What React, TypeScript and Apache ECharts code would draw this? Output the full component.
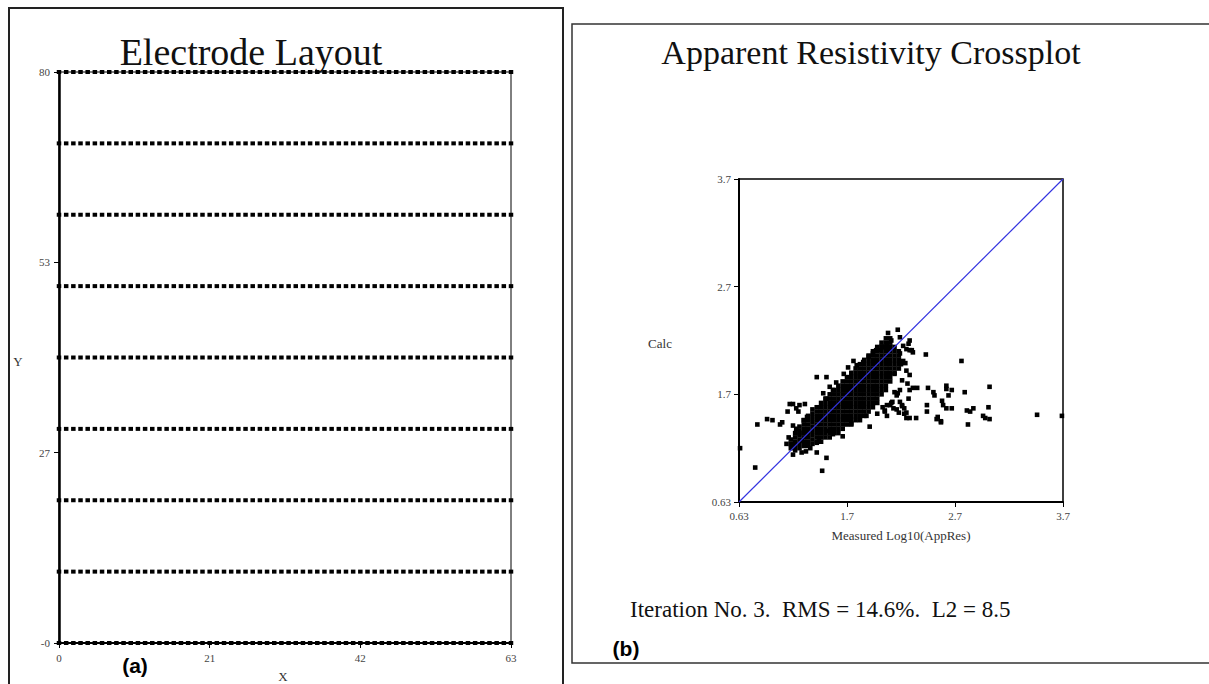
import React, { useEffect, useRef } from "react";
import * as echarts from "echarts";

// ---- Electrode layout (panel a) ----
const electrodeX = [
  0, 1, 2, 3, 4, 5, 6, 7, 8, 9, 10, 11, 12, 13, 14, 15, 16, 17, 18, 19, 20,
  21, 22, 23, 24, 25, 26, 27, 28, 29, 30, 31, 32, 33, 34, 35, 36, 37, 38, 39,
  40, 41, 42, 43, 44, 45, 46, 47, 48, 49, 50, 51, 52, 53, 54, 55, 56, 57, 58,
  59, 60, 61, 62, 63,
];
const electrodeRowsY = [0, 10, 20, 30, 40, 50, 60, 70, 80];
const layoutXTicks = [0, 21, 42, 63];
const layoutXTickLabels = ["0", "21", "42", "63"];
const layoutYTicks = [0, 26.67, 53.33, 80];
const layoutYTickLabels = ["-0", "27", "53", "80"];

// ---- Apparent resistivity crossplot (panel b) ----
const crossTicks = [0.7, 1.7, 2.7, 3.7];
const crossTickLabels = ["0.63", "1.7", "2.7", "3.7"];
const diagonal: [number, number][] = [
  [0.7, 0.7],
  [3.7, 3.7],
];
// dense core of the cloud: [measured, list of calc values]
const coreColumns: [number, number[]][] = [
  [1.18, [1.2, 1.24, 1.28]],
  [1.22, [1.18, 1.22, 1.26, 1.3, 1.34]],
  [1.26, [1.2, 1.24, 1.28, 1.32, 1.36, 1.4]],
  [1.3, [1.22, 1.26, 1.3, 1.34, 1.38, 1.42, 1.46]],
  [1.34, [1.22, 1.26, 1.3, 1.34, 1.38, 1.42, 1.46, 1.5]],
  [1.38, [1.24, 1.28, 1.32, 1.36, 1.4, 1.44, 1.48, 1.52, 1.56]],
  [1.42, [1.26, 1.3, 1.34, 1.38, 1.42, 1.46, 1.5, 1.54, 1.58]],
  [1.46, [1.26, 1.3, 1.34, 1.38, 1.42, 1.46, 1.5, 1.54, 1.58, 1.62]],
  [1.5, [1.3, 1.34, 1.38, 1.42, 1.46, 1.5, 1.54, 1.58, 1.62, 1.66]],
  [1.54, [1.3, 1.34, 1.38, 1.42, 1.46, 1.5, 1.54, 1.58, 1.62, 1.66, 1.7]],
  [1.58, [1.34, 1.38, 1.42, 1.46, 1.5, 1.54, 1.58, 1.62, 1.66, 1.7, 1.74]],
  [1.62, [1.34, 1.38, 1.42, 1.46, 1.5, 1.54, 1.58, 1.62, 1.66, 1.7, 1.74, 1.78]],
  [1.66, [1.38, 1.42, 1.46, 1.5, 1.54, 1.58, 1.62, 1.66, 1.7, 1.74, 1.78, 1.82]],
  [1.7, [1.42, 1.46, 1.5, 1.54, 1.58, 1.62, 1.66, 1.7, 1.74, 1.78, 1.82, 1.86]],
  [1.74, [1.42, 1.46, 1.5, 1.54, 1.58, 1.62, 1.66, 1.7, 1.74, 1.78, 1.82, 1.86, 1.9]],
  [1.78, [1.46, 1.5, 1.54, 1.58, 1.62, 1.66, 1.7, 1.74, 1.78, 1.82, 1.86, 1.9, 1.94]],
  [1.82, [1.5, 1.54, 1.58, 1.62, 1.66, 1.7, 1.74, 1.78, 1.82, 1.86, 1.9, 1.94, 1.98]],
  [1.86, [1.5, 1.54, 1.58, 1.62, 1.66, 1.7, 1.74, 1.78, 1.82, 1.86, 1.9, 1.94, 1.98, 2.02]],
  [1.9, [1.54, 1.58, 1.62, 1.66, 1.7, 1.74, 1.78, 1.82, 1.86, 1.9, 1.94, 1.98, 2.02, 2.06]],
  [1.94, [1.58, 1.62, 1.66, 1.7, 1.74, 1.78, 1.82, 1.86, 1.9, 1.94, 1.98, 2.02, 2.06, 2.1]],
  [1.98, [1.62, 1.66, 1.7, 1.74, 1.78, 1.82, 1.86, 1.9, 1.94, 1.98, 2.02, 2.06, 2.1, 2.14]],
  [2.02, [1.7, 1.74, 1.78, 1.82, 1.86, 1.9, 1.94, 1.98, 2.02, 2.06, 2.1, 2.14, 2.18]],
  [2.06, [1.74, 1.78, 1.82, 1.86, 1.9, 1.94, 1.98, 2.02, 2.06, 2.1, 2.14, 2.18, 2.22]],
  [2.1, [1.82, 1.86, 1.9, 1.94, 1.98, 2.02, 2.06, 2.1, 2.14, 2.18, 2.22]],
  [2.14, [1.9, 1.94, 1.98, 2.02, 2.06, 2.1, 2.14]],
  [2.18, [1.98, 2.02, 2.06, 2.1]],
];
// scattered points around the core: [measured, calc]
const scatterPoints: [number, number][] = [
  [0.71, 1.2], [0.85, 1.02], [1.47, 0.99], [1.51, 1.11], [1.42, 1.16], [1.42, 1.25], [1.44, 1.28],
  [0.87, 1.42], [0.96, 1.47], [1.01, 1.46], [1.08, 1.42], [1.1, 1.44],
  [1.15, 1.54], [1.17, 1.61], [1.2, 1.61], [1.23, 1.57], [1.26, 1.6], [1.31, 1.61], [1.25, 1.54],
  [1.2, 1.41], [1.23, 1.38], [1.26, 1.34], [1.28, 1.27], [1.33, 1.31], [1.3, 1.46], [1.33, 1.49],
  [1.42, 1.86], [1.51, 1.86],
  [1.48, 1.71], [1.51, 1.66], [1.54, 1.77], [1.57, 1.74], [1.6, 1.81], [1.67, 1.89], [1.71, 1.95],
  [1.76, 2.01], [1.79, 1.97], [1.85, 2.0], [1.9, 2.05], [1.94, 2.08], [2.01, 2.11], [2.05, 2.14],
  [2.08, 2.27], [2.17, 2.3], [2.19, 2.23], [2.11, 2.2], [2.07, 2.15], [2.02, 2.14], [1.97, 2.11],
  [2.28, 2.2], [2.22, 2.15], [2.25, 2.12], [2.31, 2.09], [2.43, 2.07],
  [1.53, 1.36], [1.57, 1.33], [1.66, 1.31], [1.74, 1.43], [1.82, 1.46], [1.88, 1.5], [1.91, 1.4],
  [1.98, 1.52], [2.05, 1.54], [2.11, 1.62], [2.13, 1.57], [2.07, 1.6], [2.03, 1.58],
  [2.16, 1.69], [2.19, 1.74], [2.21, 1.83], [2.14, 1.89], [2.18, 1.94], [2.22, 2.01], [2.19, 2.08],
  [2.76, 2.01], [2.79, 1.72], [3.02, 1.77], [3.01, 1.58], [3.02, 1.47], [3.46, 1.51], [3.69, 1.5], [2.82, 1.42],
  [2.62, 1.78], [2.62, 1.75], [2.67, 1.74], [2.64, 1.69], [2.58, 1.64], [2.59, 1.6], [2.62, 1.57], [2.67, 1.57],
  [2.54, 1.49], [2.57, 1.45], [2.81, 1.55], [2.84, 1.54], [2.87, 1.57], [2.96, 1.5], [2.98, 1.48],
  [2.45, 1.76], [2.5, 1.72], [2.51, 1.69], [2.44, 1.6], [2.44, 1.54], [2.34, 1.48], [2.28, 1.48], [2.25, 1.48],
  [2.31, 1.76], [2.35, 1.76], [2.27, 1.66], [2.21, 1.6], [2.23, 1.57], [2.25, 1.53],
  [2.25, 1.92], [2.28, 1.88], [2.26, 1.8], [2.28, 2.11], [2.27, 2.17], [2.24, 1.99], [2.2, 1.98],
  [2.3, 2.11], [2.28, 1.74], [2.14, 1.72], [2.17, 1.71], [2.1, 1.6], [2.12, 1.63], [2.07, 1.5], [2.05, 1.55],
  [2.19, 1.63], [2.21, 1.59], [2.16, 1.56], [2.18, 1.53], [2.23, 1.52], [2.57, 1.44], [2.53, 1.47],
  [1.14, 1.24], [1.16, 1.3], [1.2, 1.14], [1.28, 1.16], [1.36, 1.2], [1.32, 1.17],
];

const SERIF = '"Liberation Serif", "Times New Roman", serif';
const SANS = '"Liberation Sans", Arial, sans-serif';

const labelFor = (ticks: number[], labels: string[]) => (v: number) => {
  const i = ticks.findIndex((t) => Math.abs(t - v) < 1e-6);
  return i >= 0 ? labels[i] : "";
};

export default function App() {
  const ref = useRef<HTMLDivElement>(null);

  useEffect(() => {
    if (!ref.current) return;
    const chart = echarts.init(ref.current, undefined, { renderer: "svg" });

    const electrodes: [number, number][] = [];
    electrodeRowsY.forEach((y) => electrodeX.forEach((x) => electrodes.push([x, y])));
    const cloud: [number, number][] = [];
    coreColumns.forEach(([x, ys]) => ys.forEach((y) => cloud.push([x, y])));
    scatterPoints.forEach((p) => cloud.push(p));

    const tickLabelStyle = { fontFamily: SERIF, fontSize: 11, color: "#444" };

    chart.setOption({
      animation: false,
      backgroundColor: "#fff",
      grid: [
        { left: 59, top: 72, width: 452, height: 571, show: true, borderColor: "#000", borderWidth: 1 },
        { left: 739, top: 179, width: 324, height: 323, show: true, borderColor: "#000", borderWidth: 1.5 },
      ],
      xAxis: [
        {
          gridIndex: 0, type: "value", min: 0, max: 63,
          axisLine: { show: true, onZero: false, lineStyle: { color: "#000", width: 2 } },
          axisTick: { show: true, customValues: layoutXTicks, length: 5, lineStyle: { color: "#000" } },
          axisLabel: { customValues: layoutXTicks, formatter: labelFor(layoutXTicks, layoutXTickLabels), margin: 9, ...tickLabelStyle },
          splitLine: { show: false },
        },
        {
          gridIndex: 1, type: "value", min: 0.7, max: 3.7,
          axisLine: { show: true, onZero: false, lineStyle: { color: "#000", width: 2 } },
          axisTick: { show: true, customValues: crossTicks, length: 5, lineStyle: { color: "#000" } },
          axisLabel: { customValues: crossTicks, formatter: labelFor(crossTicks, crossTickLabels), margin: 8, ...tickLabelStyle },
          splitLine: { show: false },
        },
      ],
      yAxis: [
        {
          gridIndex: 0, type: "value", min: 0, max: 80,
          axisLine: { show: true, onZero: false, lineStyle: { color: "#000", width: 2.5 } },
          axisTick: { show: true, customValues: layoutYTicks, length: 5, lineStyle: { color: "#000" } },
          axisLabel: { customValues: layoutYTicks, formatter: labelFor(layoutYTicks, layoutYTickLabels), margin: 9, ...tickLabelStyle },
          splitLine: { show: false },
        },
        {
          gridIndex: 1, type: "value", min: 0.7, max: 3.7,
          axisLine: { show: true, onZero: false, lineStyle: { color: "#000", width: 2 } },
          axisTick: { show: true, customValues: crossTicks, length: 5, lineStyle: { color: "#000" } },
          axisLabel: { customValues: crossTicks, formatter: labelFor(crossTicks, crossTickLabels), margin: 8, ...tickLabelStyle },
          splitLine: { show: false },
        },
      ],
      series: [
        {
          type: "scatter", xAxisIndex: 0, yAxisIndex: 0, data: electrodes,
          symbol: "rect", symbolSize: [4.5, 4], itemStyle: { color: "#000", opacity: 1 }, silent: true,
        },
        {
          type: "scatter", xAxisIndex: 1, yAxisIndex: 1, data: cloud,
          symbol: "rect", symbolSize: 4.6, itemStyle: { color: "#000", opacity: 1 }, silent: true,
        },
        {
          type: "line", xAxisIndex: 1, yAxisIndex: 1, data: diagonal, showSymbol: false, z: 5,
          lineStyle: { color: "#3434e0", width: 1.2 }, silent: true,
        },
      ],
      graphic: [
        { type: "rect", shape: { x: 9, y: 8, width: 554, height: 700 }, style: { fill: "none", stroke: "#222", lineWidth: 2 }, silent: true },
        { type: "rect", shape: { x: 572, y: 24, width: 660, height: 639 }, style: { fill: "none", stroke: "#333", lineWidth: 1.5 }, silent: true },
        { type: "text", x: 251, y: 52, style: { text: "Electrode Layout", font: `38px ${SERIF}`, fill: "#111", align: "center", verticalAlign: "middle" } },
        { type: "text", x: 871, y: 52, style: { text: "Apparent Resistivity Crossplot", font: `34px ${SERIF}`, fill: "#111", align: "center", verticalAlign: "middle" } },
        { type: "text", x: 18, y: 361, style: { text: "Y", font: `13px ${SERIF}`, fill: "#333", align: "center", verticalAlign: "middle" } },
        { type: "text", x: 283, y: 676, style: { text: "X", font: `13px ${SERIF}`, fill: "#333", align: "center", verticalAlign: "middle" } },
        { type: "text", x: 660, y: 343, style: { text: "Calc", font: `13px ${SERIF}`, fill: "#333", align: "center", verticalAlign: "middle" } },
        { type: "text", x: 901, y: 535, style: { text: "Measured Log10(AppRes)", font: `13px ${SERIF}`, fill: "#333", align: "center", verticalAlign: "middle" } },
        { type: "text", x: 630, y: 609, style: { text: "Iteration No. 3.  RMS = 14.6%.  L2 = 8.5", font: `23px ${SERIF}`, fill: "#111", align: "left", verticalAlign: "middle" } },
        { type: "text", x: 135, y: 665, style: { text: "(a)", font: `bold 21px ${SANS}`, fill: "#000", align: "center", verticalAlign: "middle" } },
        { type: "text", x: 626, y: 648, style: { text: "(b)", font: `bold 21px ${SANS}`, fill: "#000", align: "center", verticalAlign: "middle" } },
      ],
    });

    return () => chart.dispose();
  }, []);

  return (
    <div
      ref={ref}
      style={{ position: "absolute", left: 0, top: 0, width: 1209, height: 684, background: "#fff" }}
    />
  );
}
